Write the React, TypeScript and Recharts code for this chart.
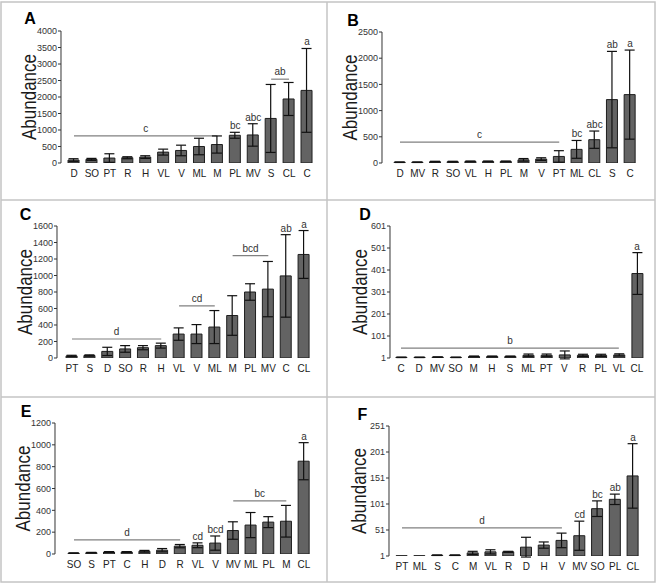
import React from 'react';
import { BarChart, Bar, ErrorBar, XAxis, YAxis, ReferenceLine, ReferenceDot } from 'recharts';

// panel A
const catsA = ['D', 'SO', 'PT', 'R', 'H', 'VL', 'V', 'ML', 'M', 'PL', 'MV', 'S', 'CL', 'C'];
const meanA = [90, 110, 150, 160, 180, 330, 380, 500, 560, 840, 850, 1350, 1940, 2200];
const errA = [40, 30, 130, 30, 40, 90, 160, 250, 260, 90, 340, 1030, 500, 1270];
const sigA = ['', '', '', '', '', '', '', '', '', 'bc', 'abc', '', '', 'a'];
const groupsA = [
    { from: 'D', to: 'M', y: 820, text: 'c' },
    { from: 'S', to: 'CL', y: 2540, text: 'ab' },
];

// panel B
const catsB = ['D', 'MV', 'R', 'SO', 'VL', 'H', 'PL', 'M', 'V', 'PT', 'ML', 'CL', 'S', 'C'];
const meanB = [15, 15, 25, 25, 30, 30, 30, 60, 75, 125, 260, 445, 1210, 1305];
const errB = [5, 5, 8, 8, 8, 8, 8, 25, 25, 110, 170, 165, 920, 850];
const sigB = ['', '', '', '', '', '', '', '', '', '', 'bc', 'abc', 'ab', 'a'];
const groupsB = [{ from: 'D', to: 'PT', y: 400, text: 'c' }];

// panel C
const catsC = ['PT', 'S', 'D', 'SO', 'R', 'H', 'VL', 'V', 'ML', 'M', 'PL', 'MV', 'C', 'CL'];
const meanC = [25, 30, 80, 110, 125, 150, 290, 290, 375, 515, 800, 835, 995, 1255];
const errC = [8, 8, 50, 40, 25, 30, 75, 115, 200, 240, 100, 335, 500, 290];
const sigC = ['', '', '', '', '', '', '', '', '', '', '', '', 'ab', 'a'];
const groupsC = [
    { from: 'PT', to: 'H', y: 230, text: 'd' },
    { from: 'VL', to: 'ML', y: 633, text: 'cd' },
    { from: 'M', to: 'MV', y: 1242, text: 'bcd' },
];

// panel D
const catsD = ['C', 'D', 'MV', 'SO', 'M', 'H', 'S', 'ML', 'PT', 'V', 'R', 'PL', 'VL', 'CL'];
const meanD = [4, 4, 5, 4, 8, 8, 8, 13, 13, 15, 13, 13, 15, 385];
const errD = [1, 1, 1, 1, 2, 2, 2, 6, 6, 18, 5, 5, 5, 95];
const sigD = ['', '', '', '', '', '', '', '', '', '', '', '', '', 'a'];
const groupsD = [{ from: 'C', to: 'VL', y: 46, text: 'b' }];

// panel E
const catsE = ['SO', 'S', 'PT', 'C', 'H', 'D', 'R', 'VL', 'V', 'MV', 'ML', 'PL', 'M', 'CL'];
const meanE = [8, 12, 18, 18, 25, 35, 72, 80, 100, 215, 265, 292, 300, 850];
const errE = [2, 3, 4, 4, 8, 15, 15, 22, 65, 80, 115, 50, 145, 170];
const sigE = ['', '', '', '', '', '', '', 'cd', 'bcd', '', '', '', '', 'a'];
const groupsE = [
    { from: 'SO', to: 'R', y: 130, text: 'd' },
    { from: 'MV', to: 'M', y: 486, text: 'bc' },
];

// panel F
const catsF = ['PT', 'ML', 'S', 'C', 'M', 'VL', 'R', 'D', 'H', 'V', 'MV', 'SO', 'PL', 'CL'];
const meanF = [1.5, 1.5, 2.5, 2.5, 7, 9, 9, 18, 22, 31, 40, 92, 110, 155];
const errF = [0, 0, 0.5, 0.5, 3, 4, 1, 19, 6, 14, 28, 15, 10, 62];
const sigF = ['', '', '', '', '', '', '', '', '', '', 'cd', 'bc', 'ab', 'a'];
const groupsF = [{ from: 'PT', to: 'V', y: 55, text: 'd' }];

const FONT = '"Liberation Sans", Arial, sans-serif';

interface Group { from: string; to: string; y: number; text: string }

interface PanelCfg {
    left: number; top: number;
    axisX: number; yTop: number; yBottom: number;
    firstCat: number; lastCat: number; labelBase: number;
    letter: string; letterX: number; letterY: number;
    domain: [number, number]; ticks: number[];
}

function Panel({ cfg, cats, means, errs, sigs, groups }: {
    cfg: PanelCfg; cats: string[]; means: number[]; errs: number[]; sigs: string[]; groups: Group[];
}) {
    const data = cats.map((c, i) => ({ cat: c, mean: means[i], err: errs[i] }));
    const band = (cfg.lastCat - cfg.firstCat) / (cats.length - 1);
    const width = cfg.lastCat + band / 2 + 4 - cfg.left;
    const height = cfg.yBottom + 25 - cfg.top;
    const padL = cfg.firstCat - band / 2 - cfg.axisX;

    return (
        <div style={{ position: 'absolute', left: cfg.left, top: cfg.top }}>
            <BarChart width={width} height={height} data={data} barSize={11}
                margin={{ top: cfg.yTop - cfg.top, right: 4, bottom: 0, left: 0 }}>
                <XAxis dataKey="cat" height={25} interval={0} padding={{ left: padL, right: 0 }}
                    axisLine={false} tickLine={false} tickSize={4} tickMargin={3}
                    tick={{ fontSize: 10, fill: '#222', fontFamily: FONT }} />
                <YAxis width={cfg.axisX - cfg.left} domain={cfg.domain} ticks={cfg.ticks} allowDataOverflow
                    interval={0} tickSize={3} tickMargin={1}
                    axisLine={{ stroke: '#333' }} tickLine={{ stroke: '#333' }}
                    tick={{ fontSize: 9, fill: '#333', fontFamily: FONT }} />
                {groups.map((g) => (
                    <ReferenceLine key={g.text} segment={[{ x: g.from, y: g.y }, { x: g.to, y: g.y }]}
                        stroke="#808080" strokeWidth={1.2}
                        label={{ value: g.text, position: 'top', offset: 4, fontSize: 10, fill: '#333', fontFamily: FONT }} />
                ))}
                <Bar dataKey="mean" fill="#636363" stroke="#1e1e1e" strokeWidth={1} isAnimationActive={false}>
                    <ErrorBar dataKey="err" width={5} stroke="#111" strokeWidth={1.2} isAnimationActive={false} />
                </Bar>
                {sigs.map((s, i) => s ? (
                    <ReferenceDot key={i} x={cats[i]} y={means[i] + errs[i]} r={0} fill="none" stroke="none"
                        label={{ value: s, position: 'top', offset: 3, fontSize: 10, fill: '#333', fontFamily: FONT }} />
                ) : null)}
            </BarChart>
        </div>
    );
}

const cfgA: PanelCfg = { left: 1, top: 2, axisX: 61, yTop: 31, yBottom: 163, firstCat: 74, lastCat: 307, labelBase: 36, letter: 'A', letterX: 30, letterY: 24, domain: [0, 4000], ticks: [0, 500, 1000, 1500, 2000, 2500, 3000, 3500, 4000] };
const cfgB: PanelCfg = { left: 327, top: 2, axisX: 382, yTop: 32, yBottom: 163, firstCat: 400, lastCat: 630, labelBase: 357, letter: 'B', letterX: 353, letterY: 26, domain: [0, 2500], ticks: [0, 500, 1000, 1500, 2000, 2500] };
const cfgC: PanelCfg = { left: 1, top: 200, axisX: 57, yTop: 226, yBottom: 358, firstCat: 72, lastCat: 304, labelBase: 32, letter: 'C', letterX: 25.5, letterY: 220, domain: [0, 1600], ticks: [0, 200, 400, 600, 800, 1000, 1200, 1400, 1600] };
const cfgD: PanelCfg = { left: 327, top: 200, axisX: 390, yTop: 226, yBottom: 358, firstCat: 401, lastCat: 637, labelBase: 367, letter: 'D', letterX: 365, letterY: 220, domain: [1, 601], ticks: [1, 101, 201, 301, 401, 501, 601] };
const cfgE: PanelCfg = { left: 1, top: 397, axisX: 55, yTop: 423, yBottom: 554, firstCat: 74, lastCat: 304, labelBase: 30, letter: 'E', letterX: 26, letterY: 417, domain: [0, 1200], ticks: [0, 200, 400, 600, 800, 1000, 1200] };
const cfgF: PanelCfg = { left: 327, top: 397, axisX: 389, yTop: 426, yBottom: 556, firstCat: 402, lastCat: 633, labelBase: 366, letter: 'F', letterX: 362.5, letterY: 420, domain: [1, 251], ticks: [1, 51, 101, 151, 201, 251] };

const panels = [cfgA, cfgB, cfgC, cfgD, cfgE, cfgF];
const LABEL_SIZE = 20;

export default function App() {
    return (
        <div style={{ position: 'absolute', left: 0, top: 0, width: 659, height: 586, background: '#fff', fontFamily: FONT }}>
            <svg width={659} height={586} style={{ position: 'absolute', left: 0, top: 0 }}>
                <g stroke="#c4c4c4" strokeWidth={1.5} fill="none">
                    <rect x={1} y={2} width={654} height={580} />
                    <line x1={327} y1={2} x2={327} y2={582} />
                    <line x1={1} y1={200} x2={655} y2={200} />
                    <line x1={1} y1={397} x2={655} y2={397} />
                </g>
                {panels.map((p) => (
                    <g key={p.letter}>
                        <text x={p.letterX} y={p.letterY} textAnchor="middle" fontSize={16} fontWeight="bold" fill="#000" fontFamily={FONT}>{p.letter}</text>
                        <text transform={`translate(${p.labelBase - 0.35 * LABEL_SIZE}, ${(p.yTop + p.yBottom) / 2}) scale(1, 0.85) rotate(-90)`}
                            textAnchor="middle" dy="0.35em" fontSize={LABEL_SIZE} fill="#1a1a1a" fontFamily={FONT}>Abundance</text>
                    </g>
                ))}
            </svg>
            <Panel cfg={cfgA} cats={catsA} means={meanA} errs={errA} sigs={sigA} groups={groupsA} />
            <Panel cfg={cfgB} cats={catsB} means={meanB} errs={errB} sigs={sigB} groups={groupsB} />
            <Panel cfg={cfgC} cats={catsC} means={meanC} errs={errC} sigs={sigC} groups={groupsC} />
            <Panel cfg={cfgD} cats={catsD} means={meanD} errs={errD} sigs={sigD} groups={groupsD} />
            <Panel cfg={cfgE} cats={catsE} means={meanE} errs={errE} sigs={sigE} groups={groupsE} />
            <Panel cfg={cfgF} cats={catsF} means={meanF} errs={errF} sigs={sigF} groups={groupsF} />
        </div>
    );
}
